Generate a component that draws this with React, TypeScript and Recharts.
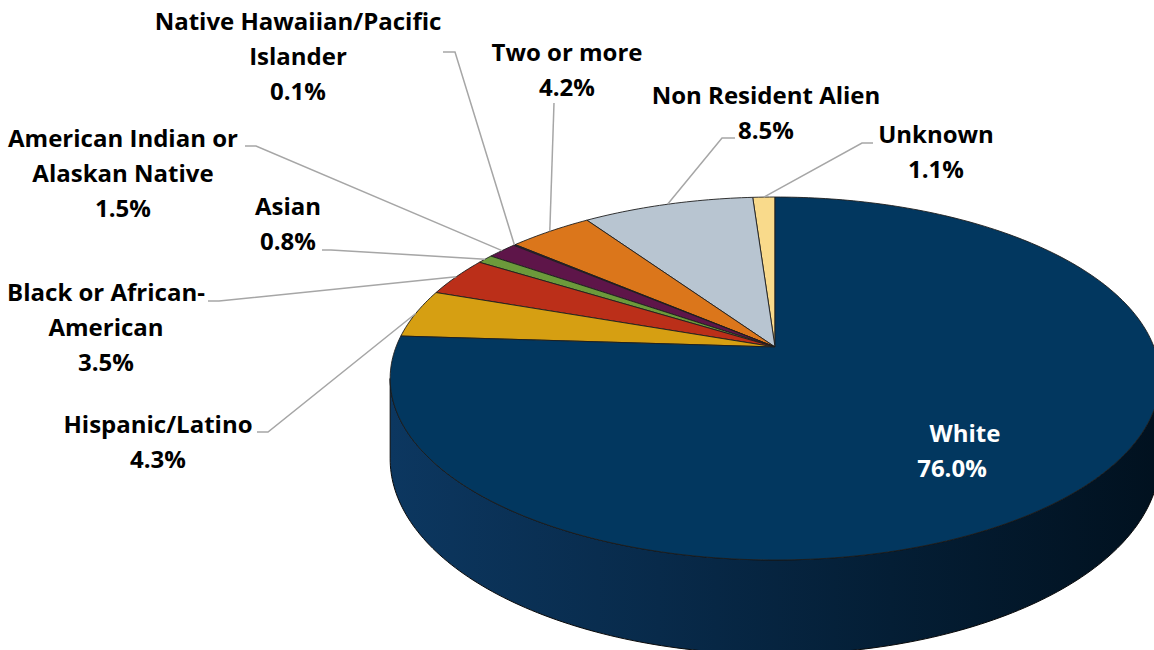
import { PieChart, Pie, Cell } from 'recharts';

const W = 1154;
const H = 650;

const CATEGORIES = [
  'Unknown',
  'Non Resident Alien',
  'Two or more',
  'Native Hawaiian/Pacific Islander',
  'American Indian or Alaskan Native',
  'Asian',
  'Black or African-American',
  'Hispanic/Latino',
  'White',
];
const SHARES = [1.1, 8.5, 4.2, 0.1, 1.5, 0.8, 3.5, 4.3, 76.0];
const LABEL_LINES = [
  ['Unknown'],
  ['Non Resident Alien'],
  ['Two or more'],
  ['Native Hawaiian/Pacific', 'Islander'],
  ['American Indian or', 'Alaskan Native'],
  ['Asian'],
  ['Black or African-', 'American'],
  ['Hispanic/Latino'],
  ['White'],
];
const COLORS = ['#F9DA8B', '#B8C5D1', '#DB761B', '#3A1F4A', '#5E1549', '#6C9A3B', '#BB2F19', '#D69F12', '#02375F'];

// where each label sits: centre x per line, first baseline, leader start and elbow
const LABEL_POS = [
  { xs: [936], y: 143, from: [873, 143], elbow: [862, 143] },
  { xs: [766], y: 104, from: [735, 138], elbow: [722, 138] },
  { xs: [567], y: 61, from: [554, 103], elbow: null },
  { xs: [298], y: 30, from: [443, 52], elbow: [455, 52] },
  { xs: [123], y: 147, from: [245, 146], elbow: [256, 146] },
  { xs: [288], y: 215, from: [322, 250], elbow: [331, 250] },
  { xs: [106], y: 301, from: [208, 301], elbow: [219, 301] },
  { xs: [158], y: 433, from: [257, 432], elbow: [268, 432] },
  { xs: [965, 952], y: 442, from: null, elbow: null },
];

const TILT = 0.4644;   // vertical squash of the top face
const PERSP = 0.1736;  // far edge drawn smaller than near edge
const DEPTH = 78;      // thickness of the disc
const LINE_H = 35;
const FONT = '"Open Sans", Lato, sans-serif';

const data = CATEGORIES.map((name, i) => ({ name, value: SHARES[i] }));

function pt(cx: number, cy: number, r: number, deg: number, drop = 0) {
  const a = (deg * Math.PI) / 180;
  const u = Math.cos(a);
  const v = Math.sin(a);
  const w = 1 + PERSP * v;
  return [cx + (r * u) / w, cy - (r * TILT * v) / w + drop / w];
}

function arc(cx: number, cy: number, r: number, a0: number, a1: number, drop = 0) {
  const n = Math.max(2, Math.ceil(Math.abs(a1 - a0) / 1));
  const out: number[][] = [];
  for (let i = 0; i <= n; i++) out.push(pt(cx, cy, r, a0 + ((a1 - a0) * i) / n, drop));
  return out;
}

const toD = (pts: number[][]) => pts.map((p, i) => `${i ? 'L' : 'M'}${p[0].toFixed(2)},${p[1].toFixed(2)}`).join('');

function Slice3D(props: any) {
  const { cx, cy, outerRadius, startAngle, endAngle, fill, index } = props;
  const s = Math.min(startAngle, endAngle);
  const e = Math.max(startAngle, endAngle);
  const edge = (Math.asin(PERSP) * 180) / Math.PI;
  const sides: string[] = [];
  for (const k of [0, 360]) {
    const lo = Math.max(s, 180 + edge + k);
    const hi = Math.min(e, 360 - edge + k);
    if (hi > lo) {
      const top = arc(cx, cy, outerRadius, lo, hi);
      const bot = arc(cx, cy, outerRadius, hi, lo, DEPTH);
      sides.push(toD([...top, ...bot]) + 'Z');
    }
  }
  const face = toD([[cx, cy], ...arc(cx, cy, outerRadius, s, e)]) + 'Z';
  const gid = `side-${index}`;
  return (
    <g>
      {sides.length > 0 && (
        <defs>
          <linearGradient id={gid} x1="0" y1="0" x2="1" y2="0">
            <stop offset="0%" stopColor="#0C3760" />
            <stop offset="35%" stopColor="#082A4A" />
            <stop offset="65%" stopColor="#041E35" />
            <stop offset="100%" stopColor="#01111F" />
          </linearGradient>
        </defs>
      )}
      {sides.map((d, i) => (
        <path key={i} d={d} fill={`url(#${gid})`} stroke="#0A0A0A" strokeWidth={1} strokeLinejoin="round" />
      ))}
      <path d={face} fill={fill} stroke="#1E1E1E" strokeWidth={0.9} strokeLinejoin="round" />
    </g>
  );
}

function SliceLabel(props: any) {
  const { cx, cy, outerRadius, midAngle, index, value } = props;
  const pos = LABEL_POS[index];
  const lines = [...LABEL_LINES[index], `${Number(value).toFixed(1)}%`];
  const isInside = !pos.from;
  const tip = pt(cx, cy, outerRadius, midAngle);
  const leader = pos.from
    ? [pos.from, ...(pos.elbow ? [pos.elbow] : []), tip]
    : null;
  return (
    <g>
      {leader && (
        <polyline
          points={leader.map(p => p.join(',')).join(' ')}
          fill="none"
          stroke="#A6A6A6"
          strokeWidth={1.5}
        />
      )}
      {lines.map((t, i) => (
        <text
          key={i}
          x={pos.xs[Math.min(i, pos.xs.length - 1)]}
          y={pos.y + i * LINE_H}
          textAnchor="middle"
          fontFamily={FONT}
          fontWeight={700}
          fontSize={24}
          fill={isInside ? '#FFFFFF' : '#000000'}
        >
          {t}
        </text>
      ))}
    </g>
  );
}

export default function App() {
  return (
    <div style={{ width: W, height: H, background: '#FFFFFF' }}>
      <style>{'body{margin:0}'}</style>
      <PieChart width={W} height={H} margin={{ top: 0, right: 0, bottom: 0, left: 0 }}>
        <Pie
          data={data}
          dataKey="value"
          nameKey="name"
          cx={775}
          cy={347}
          outerRadius={379}
          startAngle={90}
          endAngle={450}
          shape={Slice3D}
          label={SliceLabel}
          labelLine={false}
          isAnimationActive={false}
        >
          {data.map((d, i) => (
            <Cell key={d.name} fill={COLORS[i]} />
          ))}
        </Pie>
      </PieChart>
    </div>
  );
}
